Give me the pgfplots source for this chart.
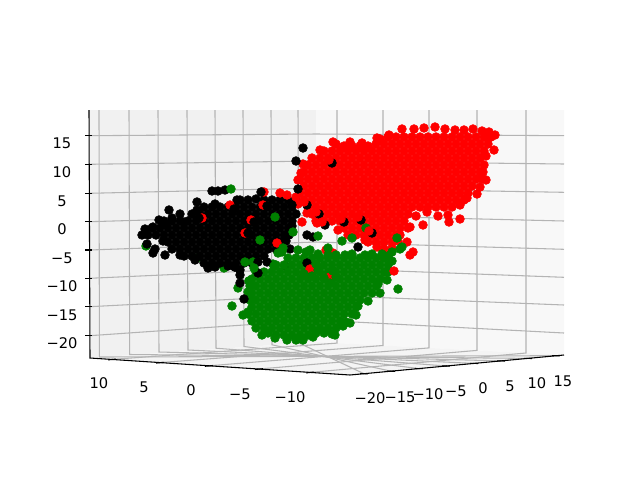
\documentclass[border=0pt]{standalone}
\usepackage{fontspec}
\setmainfont{DejaVu Sans}
\usepackage{pgfplots}
\pgfplotsset{compat=1.18}
\pgfplotsset{
  gridl/.style={no markers, color=gridc, line width=0.8pt},
  axl/.style={no markers, color=black, line width=0.8pt},
  dots/.style={only marks, mark=*, mark size=3.35pt, mark options={fill=#1, draw=#1, line width=0.3pt}},
}
\definecolor{gridc}{HTML}{B4B4B4}
\definecolor{paneL}{HTML}{F1F1F1}
\definecolor{paneR}{HTML}{F8F8F8}
\definecolor{paneF}{HTML}{F4F4F4}
\definecolor{dgreen}{HTML}{008000}
\newcommand{\tl}[3]{\node[font=\fontsize{11}{13}\selectfont, color=black] at (axis cs:#1,#2) {#3};}
\begin{document}
\begin{tikzpicture}
\begin{axis}[scale only axis, width=480pt, height=360pt, xmin=0, xmax=640, ymin=0, ymax=480,
  y dir=reverse, axis lines=none, clip=false]
\path[use as bounding box] (axis cs:0,0) rectangle (axis cs:640,480);
% panes
\addplot[fill=paneL, draw=none] coordinates {(89,110)(316,110)(316,342)(90,358)} -- cycle;
\addplot[fill=paneR, draw=none] coordinates {(316,110)(564,110)(564,355)(316,342)} -- cycle;
\addplot[fill=paneF, draw=none] coordinates {(90,358)(350,375)(564,355)(316,342)} -- cycle;
% grid on the left pane
\addplot[gridl] coordinates {(99,110)(99.4,357)(556,355.7)};
\addplot[gridl] coordinates {(129,110)(129.7,354.5)(528,358.4)};
\addplot[gridl] coordinates {(158,110)(159,352)(501,360.9)};
\addplot[gridl] coordinates {(187,110)(188,350)(474,363.4)};
\addplot[gridl] coordinates {(215,110)(216,348.2)(446,366)};
\addplot[gridl] coordinates {(243,110)(244,346.5)(419,368.6)};
\addplot[gridl] coordinates {(271,110)(272,344.8)(391,371.2)};
\addplot[gridl] coordinates {(298,110)(299,343)(364,373.7)};
% grid on the right pane
\addplot[gridl] coordinates {(337,110)(337,343.1)(112,359.4)};
\addplot[gridl] coordinates {(383,110)(383,345.5)(160,362.6)};
\addplot[gridl] coordinates {(429,110)(429,347.9)(209,365.8)};
\addplot[gridl] coordinates {(477,110)(477,350.4)(259,369)};
\addplot[gridl] coordinates {(526,110)(526,353)(310,372.4)};
% horizontal grid
\addplot[gridl] coordinates {(89.5,135.7)(316,134)(564,135.7)};
\addplot[gridl] coordinates {(89.5,164.3)(316,161)(564,164)};
\addplot[gridl] coordinates {(89.5,193.3)(316,188)(564,192.3)};
\addplot[gridl] coordinates {(89.5,221.7)(316,215)(564,221)};
\addplot[gridl] coordinates {(89.5,250)(316,242)(564,249.3)};
\addplot[gridl] coordinates {(89.5,278.3)(316,268)(564,277.3)};
\addplot[gridl] coordinates {(89.5,306.7)(316,295)(564,305)};
\addplot[gridl] coordinates {(89.5,335.7)(316,320)(564,333)};
% axis lines and ticks
\addplot[axl] coordinates {(89,110)(90,358)(350,375)(564,355)};
\addplot[axl] coordinates {(85,135.7)(92,135.7)};
\addplot[axl] coordinates {(85,164.3)(92,164.3)};
\addplot[axl] coordinates {(85,193.3)(92,193.3)};
\addplot[axl] coordinates {(85,221.7)(92,221.7)};
\addplot[axl] coordinates {(85,250)(92,250)};
\addplot[axl] coordinates {(85,278.3)(92,278.3)};
\addplot[axl] coordinates {(85,306.7)(92,306.7)};
\addplot[axl] coordinates {(85,335.7)(92,335.7)};
\addplot[axl] coordinates {(108,359.9)(116,359.1)};
\addplot[axl] coordinates {(156,363.1)(164,362.3)};
\addplot[axl] coordinates {(205,366.3)(213,365.5)};
\addplot[axl] coordinates {(255,369.5)(263,368.7)};
\addplot[axl] coordinates {(306,372.9)(314,372.1)};
\addplot[axl] coordinates {(360,373.6)(368,373.8)};
\addplot[axl] coordinates {(387,371.1)(395,371.3)};
\addplot[axl] coordinates {(415,368.5)(423,368.7)};
\addplot[axl] coordinates {(442,365.9)(450,366.1)};
\addplot[axl] coordinates {(470,363.3)(478,363.5)};
\addplot[axl] coordinates {(497,360.8)(505,361)};
\addplot[axl] coordinates {(524,358.3)(532,358.5)};
\addplot[axl] coordinates {(552,355.6)(560,355.8)};
% green just under the black group
\addplot[dots=dgreen] coordinates {(146,246)(197,258)(224,268)};
% black group
\addplot[dots=black] coordinates {
(142,235)(145,229)(153,227)(159,220)(169,210)(165,224)(172,218)(180,214)(184,222)(197,202)(197,210)(212,191)(218,191)(225,190)(262,192)(215,204)(147,244)(153,253)(165,255)
(237,200)(240,200)(248,200)(256,199)(264,200)(272,200)(280,200)(288,200)(296,200)
(204,207)(212,207)(220,207)(228,207)(236,207)(244,207)(252,207)(260,207)(268,207)(276,207)(284,207)(292,207)
(192,214)(200,214)(208,214)(216,214)(224,214)(232,214)(240,214)(248,214)(256,214)(264,214)(272,214)(280,214)(288,214)(296,214)
(164,221)(172,221)(180,221)(188,221)(196,221)(204,221)(212,221)(220,221)(228,221)(236,221)(244,221)(252,221)(260,221)(268,221)(276,221)(284,221)(292,221)
(152,228)(160,228)(168,228)(176,228)(184,228)(192,228)(200,228)(208,228)(216,228)(224,228)(232,228)(240,228)(248,228)(256,228)(264,228)(272,228)(280,228)(288,228)(292,226)
(148,235)(156,235)(164,235)(172,235)(180,235)(188,235)(196,235)(204,235)(212,235)(220,235)(228,235)(236,235)(244,235)(252,235)(260,235)(268,235)(276,235)(284,235)(289,235)
(163,241)(168,242)(176,242)(184,242)(192,242)(200,242)(208,242)(216,242)(224,242)(232,242)(240,242)(248,242)(256,242)(264,242)(272,242)(280,242)(286,241)
(155,249)(172,249)(180,249)(188,249)(196,249)(204,249)(212,249)(220,249)(228,249)(236,249)(244,249)(252,249)(260,249)(268,249)(276,249)(290,249)
(180,255)(184,256)(192,256)(200,256)(208,256)(216,256)(224,256)(232,256)(240,256)(248,256)(256,256)(264,256)
(195,260)(204,263)(212,263)(220,263)(228,263)(236,263)(244,263)(252,263)
(208,268)(215,267)(228,266)(240,270)(235,267)
(307,235)(313,237)(285,266)
};
% red seen inside the black group
\addplot[dots=red] coordinates {(202,218)(264,192)(230,205)(245,233)(277,243)(251,220)(263,205)};
\addplot[dots=black] coordinates {(199,218)(261,192)(234,209)(248,233)(254,222)(267,206)};
% red group
\addplot[dots=red] coordinates {
(389,135)(377,138)(402,129)(414,129)(424,128)(435,127)(445,129)(455,130)(464,130)(473,129)(482,131)(489,132)(495,135)
(380,139)(388,137)(396,137)(404,137)(412,137)(420,137)(428,137)(436,137)(444,137)(452,137)(460,137)(468,137)(476,137)(484,137)(491,137)
(333,142)(350,142)(362,143)(336,144)(344,146)(352,146)(360,146)(368,146)(376,144)(384,144)(392,144)(400,144)(408,144)(416,144)(424,144)(432,144)(440,144)(448,144)(456,144)(464,144)(472,144)(480,144)(488,144)
(320,150)(324,151)(332,151)(340,151)(348,151)(356,151)(364,151)(372,151)(380,151)(388,151)(396,151)(404,151)(412,151)(420,151)(428,151)(436,151)(444,151)(452,151)(460,151)(468,151)(476,151)(484,151)(494,150)
(312,158)(320,158)(328,158)(336,158)(344,158)(352,158)(360,158)(368,158)(376,158)(384,158)(392,158)(400,158)(408,158)(416,158)(424,158)(432,158)(440,158)(448,158)(456,158)(464,158)(472,158)(480,158)(486,156)
(303,164)(308,165)(316,165)(324,165)(332,165)(340,165)(348,165)(356,165)(364,165)(372,165)(380,165)(388,165)(396,165)(404,165)(412,165)(420,165)(428,165)(436,165)(444,165)(452,165)(460,165)(468,165)(476,165)(484,165)
(301,173)(304,172)(312,172)(320,172)(328,172)(336,172)(344,172)(352,172)(360,172)(368,172)(376,172)(384,172)(392,172)(400,172)(408,172)(416,172)(424,172)(432,172)(440,172)(448,172)(456,172)(464,172)(472,172)(480,172)(483,172)
(298,180)(300,179)(308,179)(316,179)(324,179)(332,179)(340,179)(348,179)(356,179)(364,179)(372,179)(380,179)(388,179)(396,179)(404,179)(412,179)(420,179)(428,179)(436,179)(444,179)(452,179)(460,179)(468,179)(476,179)(482,179)(486,180)
(304,186)(312,186)(320,186)(328,186)(336,186)(344,186)(352,186)(360,186)(368,186)(376,186)(384,186)(392,186)(400,186)(408,186)(416,186)(424,186)(432,186)(440,186)(448,186)(456,186)(464,186)(472,186)(480,187)
(280,193)(287,195)(296,197)(300,193)(308,193)(316,193)(324,193)(332,193)(340,193)(348,193)(356,193)(364,193)(372,193)(380,193)(388,193)(396,193)(404,193)(412,193)(420,193)(428,193)(436,193)(444,193)(452,193)(460,193)(468,193)(477,194)
(298,204)(304,200)(312,200)(320,200)(328,200)(336,200)(344,200)(352,200)(360,200)(368,200)(376,200)(384,200)(392,200)(400,200)(408,200)(416,200)(424,200)(432,200)(440,200)(448,200)(456,200)(464,200)(467,198)
(308,207)(316,207)(324,207)(332,207)(340,207)(348,207)(356,207)(364,207)(372,207)(380,207)(388,207)(396,207)(404,207)(412,207)(420,207)(428,207)(436,207)(444,207)(452,207)(460,205)
(307,213)(312,214)(320,214)(328,214)(336,214)(344,214)(352,214)(360,214)(368,214)(376,214)(384,214)(392,214)(400,214)(408,214)(416,216)(427,212)(438,216)(448,215)
(302,222)(317,223)(316,221)(324,221)(332,221)(340,221)(348,221)(356,221)(364,221)(372,221)(380,221)(388,221)(396,221)(404,221)(423,225)(449,222)(460,219)
(338,230)(344,228)(352,228)(360,228)(368,228)(376,228)(384,228)(392,228)(400,228)(408,228)(410,227)
(348,235)(356,235)(364,235)(372,235)(380,235)(388,235)(396,235)(400,235)
(365,240)(368,242)(376,242)(384,242)(392,242)(398,241)(407,242)
(377,247)(384,249)(392,248)(413,252)(410,255)(383,257)(333,253)(326,250)
};
% green group
\addplot[dots=dgreen] coordinates {
(282,252)(298,250)(306,252)(310,250)(318,254)(328,255)(336,255)(345,255)(352,254)(365,255)(372,254)(382,254)(392,252)(400,249)
(288,258)(296,258)(304,258)(312,258)(320,258)(328,258)(336,258)(344,258)(352,258)(360,258)(368,258)(376,258)(384,258)(388,256)
(253,262)(273,264)(276,265)(284,265)(292,265)(300,265)(308,265)(316,265)(324,265)(332,265)(340,265)(348,265)(356,265)(364,265)(372,265)(380,265)(388,265)(392,261)
(256,272)(264,272)(272,272)(280,272)(288,272)(296,272)(304,272)(312,272)(320,272)(328,272)(336,272)(344,272)(352,272)(360,272)(368,272)(376,272)(384,272)(388,272)
(252,279)(260,279)(268,279)(276,279)(284,279)(292,279)(300,279)(308,279)(316,279)(324,279)(332,279)(340,279)(348,279)(356,279)(364,279)(372,279)(380,279)(387,280)
(250,286)(256,286)(264,286)(272,286)(280,286)(288,286)(296,286)(304,286)(312,286)(320,286)(328,286)(336,286)(344,286)(352,286)(360,286)(368,286)(376,286)(378,284)
(248,292)(252,293)(260,293)(268,293)(276,293)(284,293)(292,293)(300,293)(308,293)(316,293)(324,293)(332,293)(340,293)(348,293)(356,293)(364,293)(372,293)(380,293)
(250,300)(256,300)(264,300)(272,300)(280,300)(288,300)(296,300)(304,300)(312,300)(320,300)(328,300)(336,300)(344,300)(352,300)(360,300)(368,301)
(252,307)(260,307)(268,307)(276,307)(284,307)(292,307)(300,307)(308,307)(316,307)(324,307)(332,307)(340,307)(348,307)(356,307)(358,306)
(243,315)(248,312)(248,314)(256,314)(264,314)(272,314)(280,314)(288,314)(296,314)(304,314)(312,314)(320,314)(328,314)(336,314)(344,314)(352,314)(356,315)
(252,321)(260,321)(268,321)(276,321)(284,321)(292,321)(300,321)(308,321)(316,321)(324,321)(332,321)(340,321)(346,322)(350,323)
(256,328)(264,328)(272,328)(280,328)(288,328)(296,328)(304,328)(312,328)(320,328)(328,328)(336,328)(343,326)
(262,335)(268,333)(276,335)(284,335)(292,335)(300,335)(308,335)(316,333)(324,333)(332,334)(335,335)
(275,338)(287,340)(296,340)(303,340)(313,337)
(231,189)(275,217)(293,232)(318,236)(283,248)(278,253)(260,240)(366,228)(342,241)(352,238)(397,238)(402,247)(398,289)(232,306)(249,281)(238,288)(245,262)(328,248)
};
% stragglers on top
\addplot[dots=black] coordinates {
(303,148)(296,161)(332,163)(298,189)(307,205)(319,214)(325,225)(344,222)(361,220)(372,233)(292,205)
};
\addplot[dots=red] coordinates {(329,160)(304,202)(316,212)(322,222)(341,219)(358,217)(369,231)};
\addplot[dots=black] coordinates {(358,247)(307,263)(258,262)(267,262)(258,273)(240,275)(240,283)(244,299)(235,267)};
\addplot[dots=dgreen] coordinates {(249,281)(254,268)(274,266)};
\addplot[dots=red] coordinates {(394,271)(310,269)(330,277)};
\addplot[dots=dgreen] coordinates {(304,274)(312,276)(318,270)(324,278)(330,283)(336,277)(333,271)(316,264)};
% tick labels
\tl{62}{143.5}{15}
\tl{62}{172.5}{10}
\tl{62}{201}{5}
\tl{62}{229.5}{0}
\tl{62}{258}{−5}
\tl{62}{286.5}{−10}
\tl{62}{315}{−15}
\tl{62}{343.5}{−20}
\tl{99}{383}{10}
\tl{144}{387}{5}
\tl{191}{390}{0}
\tl{240}{394}{−5}
\tl{290}{397}{−10}
\tl{370}{398}{−20}
\tl{400}{397}{−15}
\tl{428}{394}{−10}
\tl{456}{391}{−5}
\tl{483}{388}{0}
\tl{510}{386}{5}
\tl{537}{383}{10}
\tl{563}{381}{15}
\end{axis}
\end{tikzpicture}
\end{document}
